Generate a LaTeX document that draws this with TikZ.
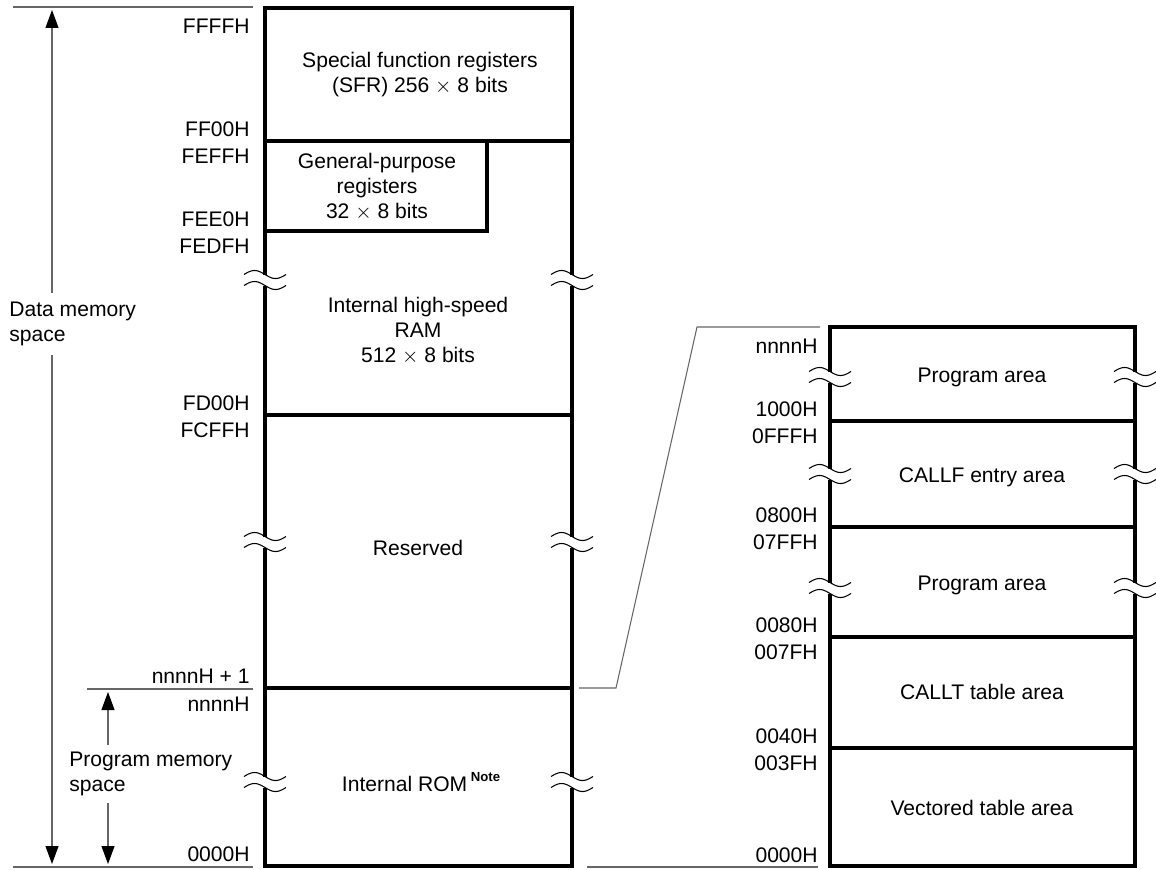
\documentclass[tikz,border=0pt]{standalone}
\usepackage{fontspec}
\setmainfont{Liberation Sans}
\usetikzlibrary{arrows.meta,positioning}

% Unterbrechung einer Linie (zwei Wellen)
\newcommand\brkmark[2]{%
  \fill[white] (#1-3,#2-5.5) rectangle (#1+3,#2+5.5);
  \foreach \d in {-5.5,5.5}
    \draw[line width=0.6pt] plot[domain=-21:21,samples=40,smooth] ({#1+\x},{#2+\d+4*sin(\x*360/42)});}

\begin{document}
\begin{tikzpicture}[x=0.02cm, y=-0.02cm,
    every node/.style={font=\fontsize{12}{14.2}\selectfont},
    box/.style={draw, line width=2pt},
    thin/.style={draw=black!60, line width=0.6pt},
    arr/.style={thin, -{Triangle[length=3.6mm,width=2.6mm,color=black]}},
    adr/.style={anchor=base east, inner sep=0pt},
    txt/.style={align=center}]
  \useasboundingbox (0,0) rectangle (1156,869);

  % linker Speicher
  \draw[box] (265,8) rectangle (572,866);
  \draw[box] (265,141) -- (572,141);
  \draw[box] (487,141) |- (265,231);
  \draw[box] (265,415) -- (572,415);
  \draw[box] (265,688) -- (572,688);

  % rechter Speicher (Ausschnitt)
  \draw[box] (830,327) rectangle (1135,866);
  \foreach \y in {421,527,637,748}
    \draw[box] (830,\y) -- (1135,\y);

  \foreach \y in {280,542,782} {\brkmark{265}{\y} \brkmark{572}{\y}}
  \foreach \y in {377,474,588} {\brkmark{830}{\y} \brkmark{1135}{\y}}

  \node[txt] (sfr) at (420,75)  {Special function registers\\(SFR) 256 $\times$ 8 bits};
  \node[txt] (gpr) at (377,187) {General-purpose\\registers\\32 $\times$ 8 bits};
  \node[txt] (ram) at (418,331) {Internal high-speed\\RAM\\512 $\times$ 8 bits};
  \node[txt] (rsv) at (418,548) {Reserved};
  \node[txt] (rom) at (421,782) {Internal ROM\,\raisebox{5.5pt}{\fontsize{7.5}{8}\selectfont\bfseries Note}};

  \node[txt] (prg1) at (982,377) {Program area};
  \node[txt] (callf) at (982,477) {CALLF entry area};
  \node[txt] (prg2) at (982,585) {Program area};
  \node[txt] (callt) at (982,692) {CALLT table area};
  \node[txt] (vect) at (982,808) {Vectored table area};

  % Adressen
  \foreach \y/\t [count=\i] in {33/FFFFH, 136/FF00H, 163/FEFFH, 226/FEE0H, 253/FEDFH,
      410/FD00H, 437/FCFFH, 683/nnnnH + 1, 711/nnnnH, 861/0000H}
    \node[adr] (la\i) at (250,\y) {\t};
  \foreach \y/\t [count=\i] in {353/nnnnH, 416/1000H, 443/0FFFH, 522/0800H, 549/07FFH,
      632/0080H, 659/007FH, 743/0040H, 770/003FH, 862/0000H}
    \node[adr] (ra\i) at (818,\y) {\t};

  % Hilfslinien
  \draw[thin] (13,7) -- (253,7);
  \draw[thin] (87,689) -- (253,689);
  \draw[thin] (13,867) -- (253,867);
  \draw[thin] (587,867) -- (818,867);

  \coordinate (cst) at (579,688);
  \coordinate (knee) at (616,688);
  \coordinate (mtop) at (697,327);
  \coordinate (mend) at (820,327);
  \draw[thin] (cst) -- (knee) -- (mtop) -- (mend);

  % Pfeile
  \node[align=left, anchor=west, inner xsep=0pt, inner ysep=5pt] (dlab) at (9,324) {Data memory\\space};
  \coordinate (dtop) at (52,10);
  \coordinate (dbot) at (52,864);
  \draw[arr] (dlab.north -| dtop) -- (dtop);
  \draw[arr] (dlab.south -| dbot) -- (dbot);

  \node[align=left, anchor=west, inner xsep=0pt, inner ysep=4pt] (plab) at (69,774) {Program memory\\space};
  \coordinate (ptop) at (108,692);
  \coordinate (pbot) at (108,864);
  \draw[arr] (plab.north -| ptop) -- (ptop);
  \draw[arr] (plab.south -| pbot) -- (pbot);
\end{tikzpicture}
\end{document}
